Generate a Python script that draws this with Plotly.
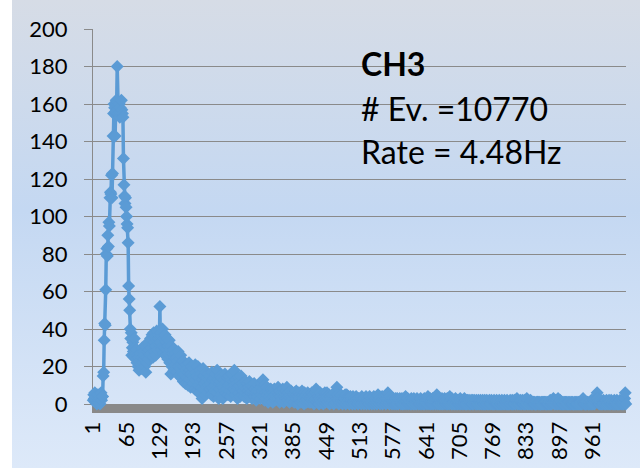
import base64
import plotly.graph_objects as go

# Channel bins (ADC channel index) and per-bin event counts for CH3
bins = list(range(1, 1025))

counts_001_032 = [2, 5, 3, 6, 1, 4, 2, 0, 3, 5, 1, 2, 4, 0, 3, 6, 2, 4,
                  4, 15, 17, 34, 43, 42, 61, 80, 83, 79, 90, 84, 97, 95]
counts_033_064 = [110, 113, 112, 122, 110, 123, 143, 155, 160, 158, 143, 156, 162, 160, 180, 161,
                  157, 155, 160, 153, 158, 155, 162, 157, 155, 153, 131, 117, 111, 107, 110, 105]
counts_065_096 = [100, 96, 94, 86, 63, 56, 50, 40, 35, 38, 26, 30, 33, 28, 25, 35,
                  30, 27, 24, 29, 22, 26, 20, 25, 18, 23, 27, 21, 19, 25, 30, 22]
counts_097_128 = [28, 24, 26, 20, 31, 17, 25, 22, 28, 33, 24, 29, 31, 26, 35, 30,
                  27, 37, 32, 25, 38, 33, 28, 36, 26, 31, 39, 34, 29, 35, 37, 32]
counts_129_160 = [52, 33, 38, 29, 36, 40, 31, 27, 35, 30, 37, 26, 33, 29, 35, 24,
                  31, 27, 34, 22, 29, 16, 31, 20, 27, 23, 29, 18, 25, 21, 27, 19]
counts_161_192 = [25, 17, 23, 28, 20, 15, 24, 19, 26, 14, 21, 17, 23, 12, 20, 16,
                  22, 11, 18, 21, 14, 19, 10, 17, 22, 13, 18, 9, 16, 20, 12, 15]
counts_193_224 = [19, 11, 14, 8, 21, 13, 17, 7, 15, 20, 10, 14, 6, 18, 12, 16,
                  9, 3, 13, 19, 8, 15, 11, 5, 17, 12, 9, 14, 6, 16, 10, 13]
counts_225_256 = [8, 15, 11, 5, 17, 9, 13, 4, 14, 10, 7, 16, 12, 6, 18, 9,
                  13, 3, 11, 15, 8, 12, 5, 14, 10, 3, 9, 13, 7, 16, 11, 6]
counts_257_288 = [12, 8, 14, 5, 10, 15, 7, 11, 4, 13, 9, 16, 6, 12, 8, 18,
                  10, 5, 13, 7, 11, 3, 9, 14, 6, 10, 4, 12, 15, 8, 5, 11]
counts_289_320 = [7, 10, 4, 9, 12, 6, 8, 3, 11, 7, 5, 9, 12, 4, 8, 6,
                  10, 3, 7, 9, 5, 11, 4, 8, 6, 2, 9, 7, 4, 10, 5, 8]
counts_321_352 = [6, 3, 9, 5, 11, 7, 13, 4, 8, 2, 10, 6, 3, 9, 5, 7,
                  1, 8, 4, 6, 2, 8, 5, 3, 7, 1, 6, 4, 8, 2, 5, 3]
counts_353_384 = [7, 4, 6, 9, 3, 5, 1, 7, 4, 2, 6, 3, 8, 5, 1, 4,
                  6, 2, 7, 3, 9, 5, 2, 6, 4, 1, 5, 3, 7, 2, 4, 6]
counts_385_416 = [3, 5, 1, 6, 4, 2, 7, 3, 5, 0, 4, 6, 2, 3, 5, 1,
                  4, 7, 2, 5, 3, 0, 6, 4, 2, 5, 1, 3, 6, 2, 4, 1]
counts_417_448 = [5, 3, 1, 4, 6, 2, 3, 5, 0, 4, 2, 6, 8, 3, 1, 5,
                  2, 4, 0, 3, 6, 2, 4, 1, 5, 3, 0, 2, 4, 6, 1, 3]
counts_449_480 = [2, 6, 4, 1, 3, 5, 0, 2, 4, 3, 1, 5, 2, 4, 0, 3,
                  6, 2, 4, 1, 9, 3, 5, 2, 0, 4, 3, 1, 5, 2, 3, 0]
counts_481_512 = [4, 2, 1, 3, 5, 0, 2, 5, 3, 1, 4, 2, 0, 3, 4, 1,
                  2, 3, 0, 4, 2, 1, 3, 0, 2, 4, 1, 3, 2, 0, 3, 1]
counts_513_544 = [2, 3, 1, 0, 4, 2, 1, 3, 0, 2, 3, 1, 4, 0, 2, 1,
                  3, 2, 0, 4, 1, 2, 3, 0, 1, 3, 2, 4, 0, 2, 1, 3]
counts_545_576 = [2, 0, 3, 5, 1, 2, 4, 0, 3, 1, 2, 4, 0, 3, 2, 1,
                  4, 2, 0, 3, 5, 1, 6, 2, 3, 0, 4, 1, 2, 3, 0, 2]
counts_577_608 = [1, 3, 0, 2, 1, 3, 0, 2, 3, 1, 0, 2, 1, 3, 2, 0,
                  1, 3, 0, 2, 1, 0, 3, 1, 4, 0, 2, 1, 3, 0, 2, 1]
counts_609_640 = [2, 0, 1, 3, 0, 1, 2, 0, 3, 1, 0, 2, 1, 0, 3, 1,
                  2, 0, 1, 2, 0, 3, 1, 0, 2, 1, 0, 2, 3, 0, 1, 2]
counts_641_672 = [1, 0, 2, 4, 1, 0, 2, 3, 0, 1, 2, 0, 3, 1, 0, 2,
                  1, 3, 0, 2, 5, 1, 0, 2, 3, 0, 1, 2, 0, 1, 3, 0]
counts_673_704 = [2, 1, 0, 3, 1, 2, 0, 1, 3, 0, 2, 1, 0, 4, 1, 2,
                  0, 3, 1, 0, 2, 1, 0, 2, 3, 0, 1, 2, 0, 1, 2, 0]
counts_705_736 = [1, 3, 0, 2, 1, 0, 2, 1, 0, 3, 1, 0, 2, 0, 1, 2,
                  0, 1, 2, 0, 1, 0, 2, 1, 0, 2, 0, 1, 2, 1, 0, 1]
counts_737_768 = [2, 0, 1, 0, 2, 1, 0, 1, 2, 0, 1, 0, 2, 1, 0, 0,
                  2, 1, 0, 1, 2, 0, 1, 0, 1, 2, 0, 1, 0, 2, 1, 0]
counts_769_800 = [1, 0, 2, 0, 1, 1, 0, 2, 0, 1, 0, 1, 2, 0, 1, 0,
                  0, 2, 1, 0, 1, 0, 2, 0, 1, 1, 0, 2, 0, 1, 0, 1]
counts_801_832 = [0, 2, 1, 0, 1, 2, 0, 1, 0, 2, 1, 0, 1, 2, 3, 0,
                  1, 2, 0, 1, 0, 2, 1, 0, 1, 2, 0, 1, 0, 2, 1, 0]
counts_833_864 = [1, 3, 0, 1, 2, 0, 1, 0, 2, 1, 0, 1, 0, 1, 1, 0,
                  1, 0, 0, 1, 0, 1, 1, 0, 1, 0, 1, 0, 0, 1, 0, 1]
counts_865_896 = [0, 1, 0, 1, 1, 0, 1, 0, 0, 1, 0, 1, 0, 1, 2, 0,
                  1, 0, 1, 2, 3, 1, 0, 2, 1, 0, 1, 2, 0, 3, 1, 0]
counts_897_928 = [1, 2, 0, 1, 0, 1, 0, 0, 1, 0, 1, 1, 0, 1, 0, 0,
                  1, 0, 1, 0, 1, 0, 0, 1, 0, 1, 0, 0, 1, 0, 1, 0]
counts_929_960 = [1, 0, 0, 1, 0, 1, 0, 1, 0, 1, 0, 0, 2, 3, 1, 0,
                  1, 0, 0, 1, 0, 1, 1, 0, 0, 1, 0, 1, 0, 2, 0, 1]
counts_961_992 = [0, 1, 2, 0, 1, 3, 2, 4, 6, 3, 1, 2, 0, 1, 0, 2,
                  1, 0, 1, 0, 2, 1, 0, 1, 0, 1, 2, 0, 1, 0, 1, 2]
counts_993_1024 = [0, 1, 0, 2, 1, 0, 1, 1, 0, 2, 0, 1, 0, 1, 2, 0,
                   1, 0, 1, 0, 2, 1, 0, 1, 0, 1, 2, 0, 1, 3, 6, 0]

counts = (counts_001_032 + counts_033_064 + counts_065_096 + counts_097_128
          + counts_129_160 + counts_161_192 + counts_193_224 + counts_225_256
          + counts_257_288 + counts_289_320 + counts_321_352 + counts_353_384
          + counts_385_416 + counts_417_448 + counts_449_480 + counts_481_512
          + counts_513_544 + counts_545_576 + counts_577_608 + counts_609_640
          + counts_641_672 + counts_673_704 + counts_705_736 + counts_737_768
          + counts_769_800 + counts_801_832 + counts_833_864 + counts_865_896
          + counts_897_928 + counts_929_960 + counts_961_992 + counts_993_1024)

x_tick_vals = list(range(1, 1025, 64))
x_tick_text = [str(v) for v in x_tick_vals]
y_tick_vals = list(range(0, 201, 20))

info_lines = ["<b>CH3</b>", "# Ev. =10770", "Rate = 4.48Hz"]

FONT = "Lato"
BLUE = "#5b9bd5"
GRID = "#8a8a8a"

# Soft vertical gradient used as the chart background
gradient_svg = (
    '<svg xmlns="http://www.w3.org/2000/svg" width="100" height="100" preserveAspectRatio="none">'
    '<defs><linearGradient id="g" x1="0" y1="0" x2="0" y2="1">'
    '<stop offset="0" stop-color="#d6dce6"/>'
    '<stop offset="0.45" stop-color="#c4d8f2"/>'
    '<stop offset="1" stop-color="#dde9f9"/>'
    '</linearGradient></defs>'
    '<rect width="100" height="100" fill="url(#g)"/></svg>'
)
gradient_uri = "data:image/svg+xml;base64," + base64.b64encode(gradient_svg.encode()).decode()

W, H = 640, 468
ML, MR, MT, MB = 93, 14, 29, 64
plot_w = W - ML - MR
plot_h = H - MT - MB

fig = go.Figure()
fig.add_trace(go.Scatter(
    x=bins, y=counts,
    mode="lines+markers",
    line=dict(color=BLUE, width=3.5),
    marker=dict(symbol="diamond", size=10, color=BLUE),
    cliponaxis=False,
    showlegend=False,
))

fig.update_xaxes(
    range=[0.5, 1024.5],
    tickmode="array", tickvals=x_tick_vals, ticktext=x_tick_text,
    tickangle=-90,
    tickfont=dict(family=FONT, size=22, color="black"),
    showgrid=False, zeroline=False,
    showline=True, linecolor="#898989", linewidth=9,
    ticks="", automargin=False, layer="below traces",
)
fig.update_yaxes(
    range=[0, 200],
    tickmode="array", tickvals=y_tick_vals,
    tickfont=dict(family=FONT, size=22, color="black"),
    showgrid=True, gridcolor=GRID, gridwidth=1,
    zeroline=False,
    showline=True, linecolor=GRID, linewidth=1,
    ticks="outside", ticklen=8, tickcolor=GRID,
    ticklabelstandoff=12, automargin=False,
    layer="below traces",
)

# Text block with channel name, event count and rate
line_px = [63, 108, 151]
for txt, ypx in zip(info_lines, line_px):
    fig.add_annotation(
        text=txt, xref="paper", yref="paper",
        x=(359 - ML) / plot_w, y=(H - MB - ypx) / plot_h,
        xanchor="left", yanchor="middle", showarrow=False,
        font=dict(family=FONT, size=32, color="black"),
    )

fig.update_layout(
    width=W, height=H,
    margin=dict(l=ML, r=MR, t=MT, b=MB),
    paper_bgcolor="white",
    plot_bgcolor="rgba(0,0,0,0)",
    images=[dict(
        source=gradient_uri, xref="paper", yref="paper",
        x=(12 - ML) / plot_w, y=(H - MB) / plot_h,
        sizex=(W - 12) / plot_w, sizey=H / plot_h,
        xanchor="left", yanchor="top", sizing="stretch", layer="below",
    )],
)

fig.write_html("out.html")
